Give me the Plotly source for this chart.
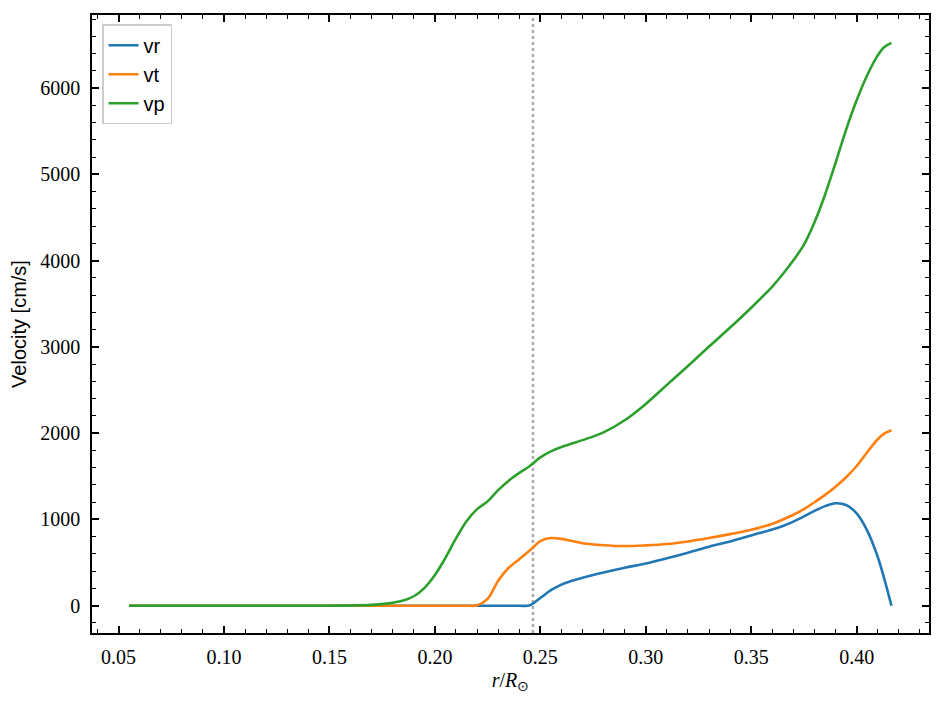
import plotly.graph_objects as go

# radius grid (r / R_sun)
r = [0.055, 0.10, 0.15, 0.17, 0.175, 0.18, 0.185, 0.19, 0.195, 0.20, 0.205, 0.21,
     0.215, 0.22, 0.225, 0.23, 0.235, 0.24, 0.245, 0.25, 0.255, 0.26, 0.265, 0.27,
     0.28, 0.29, 0.30, 0.31, 0.32, 0.33, 0.34, 0.35, 0.36, 0.365, 0.37, 0.375, 0.38,
     0.385, 0.39, 0.395, 0.40, 0.405, 0.41, 0.413, 0.4165]

vr = [0, 0, 0, 0, 0, 0, 0, 0, 0, 0, 0, 0,
      0, 0, 0, 0, 0, 0, 5, 90, 180, 245, 290, 325,
      385, 440, 490, 550, 615, 685, 745, 815, 885, 925, 975, 1035, 1100,
      1155, 1188, 1168, 1070, 870, 565, 320, 0]

vt = [0, 0, 0, 0, 0, 0, 0, 0, 0, 0, 0, 0,
      0, 5, 80, 290, 440, 540, 640, 750, 785, 775, 750, 725,
      702, 692, 700, 715, 745, 785, 830, 880, 950, 1000, 1055, 1120, 1200,
      1285, 1380, 1490, 1620, 1780, 1930, 1995, 2035]

vp = [0, 0, 0, 10, 20, 35, 60, 110, 205, 355, 555, 780,
      980, 1120, 1210, 1340, 1450, 1540, 1620, 1720, 1790, 1840, 1880, 1920,
      2010, 2150, 2340, 2560, 2780, 3005, 3225, 3455, 3700, 3845, 4005, 4185, 4445,
      4765, 5135, 5520, 5860, 6150, 6380, 6475, 6525]

r_boundary = 0.2465

series = [("vr", vr, "#1f77b4"), ("vt", vt, "#ff7f0e"), ("vp", vp, "#2ca02c")]

fig = go.Figure()
for name, vals, col in series:
    fig.add_trace(go.Scatter(x=r, y=vals, mode="lines", name=name,
                             line=dict(color=col, width=2.6, shape="spline", smoothing=1.0)))

fig.add_vline(x=r_boundary, line=dict(color="#aaaaaa", width=2.5, dash="dot"), layer="below")

serif = "Liberation Serif"
sans = "Liberation Sans"
axis_common = dict(
    showline=True, linecolor="black", linewidth=1.6, mirror="allticks",
    ticks="inside", ticklen=7, tickwidth=1.5, tickcolor="black",
    showgrid=False, zeroline=False, automargin=False,
    tickfont=dict(family=serif, size=20, color="black"),
)

fig.update_xaxes(range=[0.0374, 0.4343], tick0=0.05, dtick=0.05, tickformat=".2f",
                 minor=dict(ticks="inside", dtick=0.01, tick0=0.05, ticklen=4, tickwidth=1.2, tickcolor="black"),
                 title=dict(text="<i>r</i>/<i>R</i><sub>⊙</sub>", font=dict(family=serif, size=20, color="black"), standoff=6),
                 ticklabelstandoff=5,
                 **axis_common)
fig.update_yaxes(range=[-316, 6848], tick0=0, dtick=1000,
                 minor=dict(ticks="inside", dtick=200, tick0=0, ticklen=4, tickwidth=1.2, tickcolor="black"),
                 title=dict(text="Velocity [cm/s]", font=dict(family=sans, size=20, color="black"), standoff=8),
                 ticklabelstandoff=6,
                 **axis_common)

fig.update_layout(
    width=929, height=689,
    margin=dict(l=84, r=8, t=7, b=64),
    plot_bgcolor="white", paper_bgcolor="white",
    showlegend=True,
    legend=dict(x=0.012, y=0.985, xanchor="left", yanchor="top",
                bgcolor="rgba(255,255,255,0.8)", bordercolor="#cccccc", borderwidth=1.5,
                font=dict(family=sans, size=20, color="black"), tracegroupgap=0,
                itemwidth=30),
)

fig.write_html("out.html")
